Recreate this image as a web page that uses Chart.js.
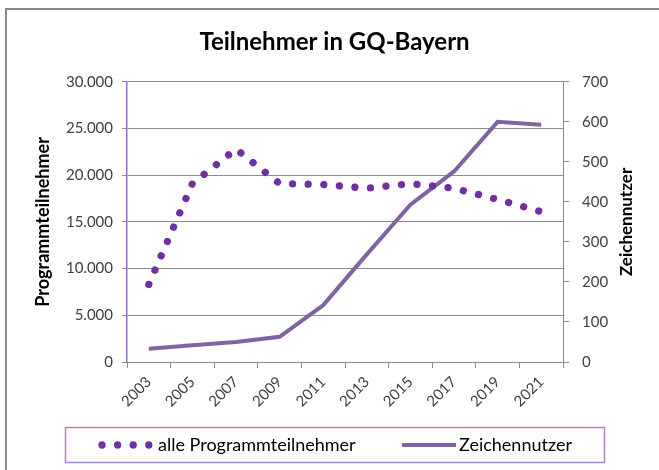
<!DOCTYPE html>
<html>
<head>
<meta charset="utf-8">
<script src="https://cdn.jsdelivr.net/npm/chart.js@4"></script>
<style>
html,body{margin:0;padding:0;background:#fff;}
#wrap{position:relative;width:659px;height:470px;}
</style>
</head>
<body>
<div id="wrap"><canvas id="c" width="659" height="470"></canvas></div>
<script>
// ---- data ----
const categories = ['2003','2005','2007','2009','2011','2013','2015','2017','2019','2021'];
const programmteilnehmer = [8300, 19100, 22800, 19100, 19000, 18600, 19100, 18600, 17400, 16100];
const zeichennutzer = [33, 42, 50, 63, 142, 269, 393, 476, 600, 593];
const leftTickValues = [0, 5000, 10000, 15000, 20000, 25000, 30000];
const rightTickValues = [0, 100, 200, 300, 400, 500, 600, 700];
const chartTitle = 'Teilnehmer in GQ-Bayern';
const leftAxisTitle = 'Programmteilnehmer';
const rightAxisTitle = 'Zeichennutzer';
const seriesNames = ['alle Programmteilnehmer', 'Zeichennutzer'];

const FONT = 'Lato, "Open Sans", sans-serif';
const DOT_COLOR = '#7030a0';
const LINE_COLOR = '#8064a2';
const GRID = '#8c8c8c';
const DOT_DASH = [0.01, 15.6];

function fmtDE(v){
  return String(v).replace(/\B(?=(\d{3})+(?!\d))/g, '.');
}

const decor = {
  id: 'decor',
  beforeDraw(chart){
    const ctx = chart.ctx;
    ctx.save();
    ctx.strokeStyle = '#8a8a8a';
    ctx.lineWidth = 2;
    ctx.beginPath();
    ctx.moveTo(6, 470);
    ctx.lineTo(6, 9);
    ctx.lineTo(659, 9);
    ctx.stroke();
    ctx.restore();
  },
  afterDraw(chart){
    const ctx = chart.ctx;
    const ca = chart.chartArea;
    ctx.save();
    // right axis title (reads bottom-to-top)
    ctx.translate(627, (ca.top + ca.bottom) / 2);
    ctx.rotate(-Math.PI / 2);
    ctx.font = 'bold 17px ' + FONT;
    ctx.fillStyle = '#000';
    ctx.textAlign = 'center';
    ctx.textBaseline = 'middle';
    ctx.fillText(rightAxisTitle, 0, 0);
    ctx.restore();

    // legend box
    ctx.save();
    ctx.strokeStyle = '#a886c9';
    ctx.lineWidth = 1.5;
    ctx.strokeRect(65.5, 427.5, 539, 35);
    const ly = 445;
    const ds0 = chart.data.datasets[0];
    const ds1 = chart.data.datasets[1];
    ctx.strokeStyle = ds0.borderColor;
    ctx.lineWidth = ds0.borderWidth;
    ctx.lineCap = 'round';
    ctx.setLineDash(ds0.borderDash);
    ctx.beginPath();
    ctx.moveTo(102, ly);
    ctx.lineTo(151, ly);
    ctx.stroke();
    ctx.setLineDash([]);
    ctx.lineCap = 'butt';
    ctx.strokeStyle = ds1.borderColor;
    ctx.lineWidth = ds1.borderWidth;
    ctx.beginPath();
    ctx.moveTo(402, ly);
    ctx.lineTo(456, ly);
    ctx.stroke();
    ctx.font = '18px ' + FONT;
    ctx.fillStyle = '#000';
    ctx.textAlign = 'left';
    ctx.textBaseline = 'middle';
    ctx.fillText(ds0.label, 158, ly);
    ctx.fillText(ds1.label, 459, ly);
    ctx.restore();
  }
};

new Chart(document.getElementById('c'), {
  type: 'line',
  data: {
    labels: categories,
    datasets: [
      {
        label: seriesNames[0],
        data: programmteilnehmer,
        yAxisID: 'y',
        borderColor: DOT_COLOR,
        backgroundColor: DOT_COLOR,
        borderWidth: 7.3,
        borderDash: DOT_DASH,
        borderCapStyle: 'round',
        pointRadius: 0,
        tension: 0,
        fill: false
      },
      {
        label: seriesNames[1],
        data: zeichennutzer,
        yAxisID: 'y1',
        borderColor: LINE_COLOR,
        backgroundColor: LINE_COLOR,
        borderWidth: 4,
        pointRadius: 0,
        tension: 0,
        fill: false
      }
    ]
  },
  options: {
    responsive: false,
    animation: false,
    devicePixelRatio: 1,
    layout: { padding: { left: 29, right: 19, top: 10, bottom: 60 } },
    plugins: {
      legend: { display: false },
      tooltip: { enabled: false },
      title: {
        display: true,
        text: chartTitle,
        color: '#000',
        font: { family: FONT, size: 24, weight: 'bold' },
        padding: { top: 18, bottom: 25 }
      }
    },
    scales: {
      x: {
        type: 'category',
        offset: true,
        grid: { offset: true, drawOnChartArea: false, drawTicks: true, tickLength: 6, color: GRID },
        border: { color: GRID, width: 1 },
        ticks: { minRotation: 45, maxRotation: 45, autoSkip: false, padding: 5, color: '#404040', font: { family: FONT, size: 15 } },
        afterFit(s){ s.height = 48; }
      },
      y: {
        position: 'left',
        min: 0, max: 30000,
        afterBuildTicks(s){ s.ticks = leftTickValues.map(v => ({ value: v })); },
        grid: { color: GRID, tickLength: 5, lineWidth: 1 },
        border: { color: '#9a6fc4', width: 1.5 },
        ticks: { padding: 9, color: '#404040', font: { family: FONT, size: 15 }, callback: v => fmtDE(v) },
        title: { display: true, text: leftAxisTitle, color: '#000', font: { family: FONT, size: 18, weight: 'bold' }, padding: { top: 3, bottom: 4 } },
        afterFit(s){ s.width = 98; }
      },
      y1: {
        position: 'right',
        min: 0, max: 700,
        afterBuildTicks(s){ s.ticks = rightTickValues.map(v => ({ value: v })); },
        grid: { drawOnChartArea: false, color: GRID, tickLength: 6 },
        border: { color: GRID, width: 1 },
        ticks: { padding: 13, color: '#404040', font: { family: FONT, size: 15 } },
        afterFit(s){ s.width = 77; }
      }
    }
  },
  plugins: [decor]
});
</script>
</body>
</html>
